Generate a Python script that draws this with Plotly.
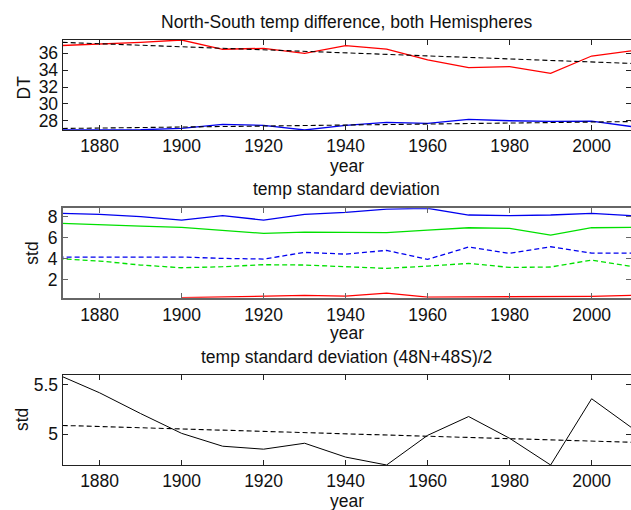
import plotly.graph_objects as go

years = [1870, 1880, 1890, 1900, 1910, 1920, 1930, 1940, 1950, 1960, 1970, 1980, 1990, 2000, 2010]

# Panel 1: North-South temperature difference
dt_north = [36.91, 37.07, 37.31, 37.58, 36.48, 36.59, 36.0, 36.91, 36.51, 35.21, 34.30, 34.42, 33.62, 35.68, 36.32]
dt_south = [26.9, 26.9, 26.93, 27.09, 27.56, 27.45, 26.9, 27.45, 27.8, 27.68, 28.16, 28.0, 27.92, 27.96, 27.29]
trend_years = [1871, 2009.6]
dt_north_trend = [37.3, 34.8]
dt_south_trend = [27.08, 27.9]

# Panel 2: temperature standard deviation
std_blue = [8.32, 8.22, 8.0, 7.68, 8.1, 7.68, 8.22, 8.41, 8.73, 8.8, 8.16, 8.1, 8.16, 8.32, 8.1]
std_green = [7.37, 7.27, 7.11, 6.98, 6.73, 6.41, 6.54, 6.48, 6.48, 6.73, 6.95, 6.89, 6.25, 6.95, 6.98]
std_blue_dash = [4.16, 4.16, 4.16, 4.16, 4.03, 3.97, 4.6, 4.44, 4.79, 3.94, 5.11, 4.51, 5.14, 4.54, 4.54]
std_green_dash = [4.0, 3.78, 3.4, 3.14, 3.24, 3.43, 3.4, 3.27, 3.08, 3.3, 3.56, 3.17, 3.21, 3.87, 3.24]
std_red = [None, None, None, 0.29, 0.35, 0.44, 0.51, 0.44, 0.73, 0.35, 0.35, 0.38, 0.38, 0.41, 0.51]

# Panel 3: temp standard deviation (48N+48S)/2
std_mean = [5.6, 5.42, 5.21, 5.01, 4.88, 4.85, 4.91, 4.77, 4.69, 4.99, 5.18, 4.96, 4.69, 5.36, 5.06]
std_mean_trend = [5.09, 4.92]

W, H = 631, 510
FONT = "Liberation Sans, Arial, Helvetica, sans-serif"
FS = 17.5
DASH = "5px,3px"

def py(p):
    return 1 - p / H

fig = go.Figure()

def line(x, y, color, dash="solid", width=1.3, xa="x", ya="y"):
    fig.add_trace(go.Scatter(x=x, y=y, mode="lines", xaxis=xa, yaxis=ya,
                             line=dict(color=color, width=width, dash=dash),
                             showlegend=False, hoverinfo="skip", connectgaps=False))

line(years, dt_north, "#ff0000")
line(years, dt_south, "#0000ee")
line(trend_years, dt_north_trend, "#000000", DASH, 1.1)
line(trend_years, dt_south_trend, "#000000", DASH, 1.1)

line(years, std_blue, "#0000ee", xa="x2", ya="y2")
line(years, std_green, "#00e000", xa="x2", ya="y2")
line(years, std_blue_dash, "#0000ee", DASH, xa="x2", ya="y2")
line(years, std_green_dash, "#00e000", DASH, xa="x2", ya="y2")
line(years, std_red, "#ff0000", xa="x2", ya="y2")

line(years, std_mean, "#000000", width=1.0, xa="x3", ya="y3")
line(trend_years, std_mean_trend, "#000000", DASH, 1.1, xa="x3", ya="y3")

xdom = [62.7 / W, 1.0]
panels = [
    (40, 130, [26.9, 37.58], [28, 30, 32, 34, 36], ["28", "30", "32", "34", "36"], "#222222", 1.2),
    (208.3, 297.7, [0.29, 8.8], [2, 4, 6, 8], ["2", "4", "6", "8"], "#666666", 1.6),
    (375, 465, [4.69, 5.6], [5, 5.5], ["5", "5.5"], "#222222", 1.2),
]
for i, (top, bot, yr, tv, tt, lc, lw) in enumerate(panels):
    sfx = "" if i == 0 else str(i + 1)
    anchor = "y" + sfx
    fig.update_layout(**{
        "xaxis" + sfx: dict(domain=xdom, anchor=anchor, range=[1871, 2009.6],
                            tickvals=[1880, 1900, 1920, 1940, 1960, 1980, 2000],
                            ticks="inside", ticklen=5, tickcolor=lc, showline=True,
                            linecolor=lc, linewidth=lw, mirror="ticks", showgrid=False,
                            zeroline=False, tickfont=dict(family=FONT, size=FS, color="#111"),
                            automargin=False, fixedrange=True),
        "yaxis" + sfx: dict(domain=[py(bot), py(top)], anchor="x" + sfx, range=yr,
                            tickvals=tv, ticktext=tt, ticks="inside", ticklen=5,
                            tickcolor=lc, showline=True, linecolor=lc, linewidth=lw,
                            mirror="ticks", showgrid=False, zeroline=False,
                            tickfont=dict(family=FONT, size=FS, color="#111"),
                            automargin=False, fixedrange=True),
    })

titles = [
    ("North-South temp difference, both Hemispheres", 21.7),
    ("temp standard deviation", 189.3),
    ("temp standard deviation (48N+48S)/2", 356.7),
]
ann = []
cx = (62.7 + W) / 2 / W
for t, yc in titles:
    ann.append(dict(text=t, x=cx, y=py(yc), xref="paper", yref="paper",
                    showarrow=False, xanchor="center", yanchor="middle",
                    font=dict(family=FONT, size=FS, color="#111")))
for yc in [166.5, 333, 501]:
    ann.append(dict(text="year", x=cx, y=py(yc), xref="paper", yref="paper",
                    showarrow=False, xanchor="center", yanchor="middle",
                    font=dict(family=FONT, size=FS, color="#111")))
for t, xc, yc in [("DT", 23, 87.5), ("std", 31.7, 253), ("std", 22, 420)]:
    ann.append(dict(text=t, x=xc / W, y=py(yc), xref="paper", yref="paper",
                    showarrow=False, xanchor="center", yanchor="middle", textangle=-90,
                    font=dict(family=FONT, size=FS, color="#111")))

fig.update_layout(width=W, height=H, margin=dict(l=0, r=0, t=0, b=0),
                  paper_bgcolor="white", plot_bgcolor="white",
                  annotations=ann, showlegend=False)

fig.write_html("out.html", config={"displayModeBar": False})
